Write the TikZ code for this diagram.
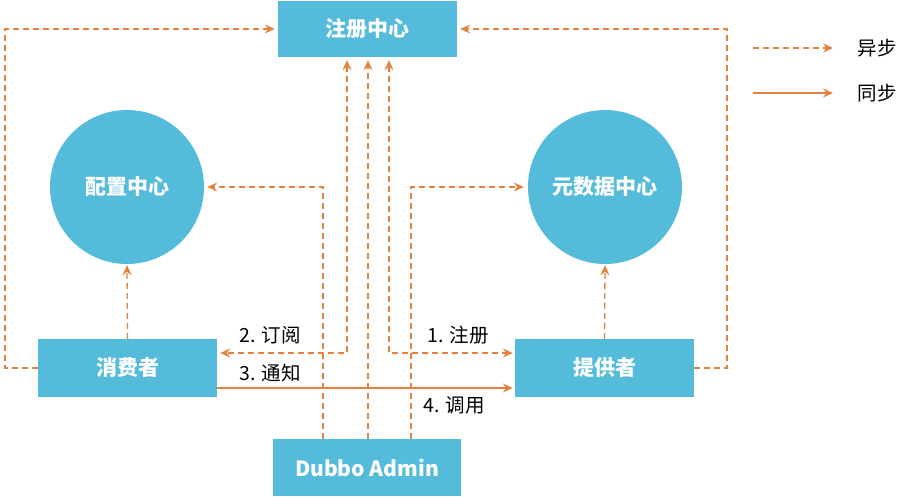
\documentclass[tikz,border=0pt]{standalone}
\usepackage{fontspec}
\setmainfont{Noto Sans CJK SC}
\usetikzlibrary{arrows.meta}
\definecolor{boxblue}{HTML}{54BCDA}
\definecolor{arrorange}{HTML}{E5813E}
\tikzset{
  box/.style={draw=none, fill=boxblue, text=white, font=\fontsize{21}{24}\selectfont\bfseries, inner sep=0pt},
  rbox/.style={box, rectangle},
  cbox/.style={box, circle, minimum size=154pt},
  link/.style={draw=arrorange, line width=1.3pt, arrows={-Stealth[length=10pt, width=9pt, inset=3.5pt]}},
  async/.style={link, dash pattern=on 6pt off 4pt},
  bothway/.style={async, arrows={Stealth[length=10pt, width=9pt, inset=3.5pt]-Stealth[length=10pt, width=9pt, inset=3.5pt]}},
  lbl/.style={font=\fontsize{19.5}{22}\selectfont, text=black, inner sep=0pt},
}
\begin{document}
\begin{tikzpicture}[x=1pt, y=-1pt]
\fill[white] (0,0) rectangle (901,500);
\useasboundingbox (0,0) rectangle (901,500);

% nodes
\node[rbox, minimum width=179pt, minimum height=56pt] (reg) at (367.5,29) {注册中心};
\node[cbox] (cfg) at (127,187) {配置中心};
\node[cbox] (meta) at (605,187) {元数据中心};
\node[rbox, minimum width=179pt, minimum height=58pt] (cons) at (127.5,368) {消费者};
\node[rbox, minimum width=179pt, minimum height=58pt] (prov) at (604.5,368) {提供者};
\node[rbox, minimum width=188pt, minimum height=57pt] (admin) at (367,467.5) {Dubbo Admin};

% helper coordinates
\coordinate (cL) at (5,29);
\coordinate (cR) at (727,29);
\coordinate (k1) at (323,187);
\coordinate (k2) at (347,353);
\coordinate (k3) at (368,0);
\coordinate (k4) at (389,353);
\coordinate (k5) at (411,187);
\coordinate (k6) at (217,388);

% outer loops
\draw[async, shorten >=3pt] (cons.west) -| (cL) -- (reg.west);
\draw[async, shorten >=3pt] (prov.east) -| (cR) -- (reg.east);

% up to circles
\draw[async, shorten >=1pt] (cons.north) -- (cfg.south);
\draw[async, shorten >=1pt] (prov.north) -- (meta.south);

% admin links
\draw[async, shorten >=3pt] (admin.north -| k1) -- (k1) -- (cfg.east);
\draw[async, shorten >=3pt] (admin.north -| k3) -- (reg.south -| k3);
\draw[async, shorten >=4pt] (admin.north -| k5) -- (k5) -- (meta.west);

% subscribe / register
\draw[bothway, shorten <=3pt, shorten >=3pt] (reg.south -| k2) -- (k2) -- (cons.east |- k2);
\draw[bothway, shorten <=3pt, shorten >=2pt] (reg.south -| k4) -- (k4) -- (prov.west |- k4);

% invoke
\draw[link, shorten >=2pt] (cons.east |- k6) -- (prov.west |- k6);

% labels
\node[lbl] (l2) at (270,335) {2. 订阅};
\node[lbl] (l3) at (270,373) {3. 通知};
\node[lbl] (l1) at (458,335) {1. 注册};
\node[lbl] (l4) at (454,405) {4. 调用};

% legend
\coordinate (g1) at (753,48);
\coordinate (g2) at (833,48);
\coordinate (g3) at (753,93);
\coordinate (g4) at (833,93);
\draw[async] (g1) -- (g2);
\draw[link] (g3) -- (g4);
\node[lbl] (t1) at (877,48) {异步};
\node[lbl] (t2) at (877,93) {同步};
\end{tikzpicture}
\end{document}
